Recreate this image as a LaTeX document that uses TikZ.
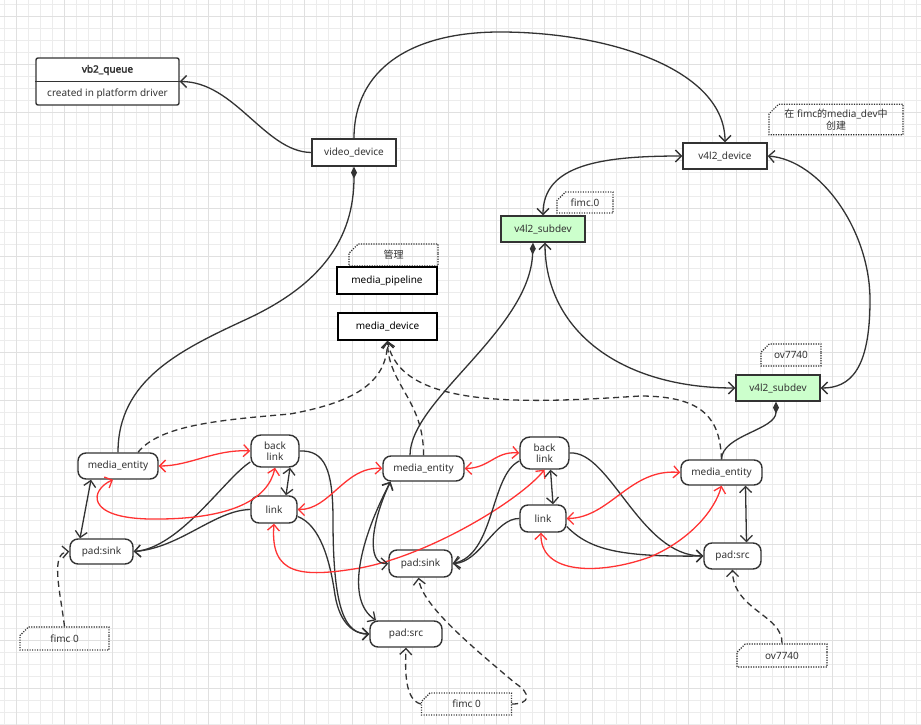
\documentclass[tikz,border=0pt]{standalone}
\usepackage{fontspec}
\setmainfont{Noto Sans}
\newfontfamily\cjk{Noto Sans CJK SC}
\newfontfamily\titlefont{Noto Sans}[FakeBold=2.5]
\usepackage{xcolor}
\usepackage{tikz}
\usetikzlibrary{arrows.meta,positioning,shapes.misc}
\definecolor{linegray}{RGB}{51,51,51}
\definecolor{linkred}{RGB}{255,51,51}
\definecolor{subgreen}{RGB}{204,255,204}
\definecolor{gridminor}{RGB}{236,236,236}
\definecolor{gridmajor}{RGB}{224,224,224}

\begin{document}
\begin{tikzpicture}[x=1pt, y=-1pt, text=linegray,
    box/.style={rectangle, draw=linegray, line width=1.4pt, fill=white, inner sep=2pt},
    boldbox/.style={box, draw=black, line width=1.9pt, text=black},
    subdev/.style={box, fill=subgreen, minimum width=84pt, minimum height=26pt},
    state/.style={box, rounded corners=8pt, align=center},
    note/.style={chamfered rectangle, chamfered rectangle corners=north west,
        chamfered rectangle xsep=6pt, draw=linegray, line width=1.2pt,
        dash pattern=on 1.2pt off 1.3pt, align=center, inner sep=1pt},
    arr/.style={-{Straight Barb[length=6pt,width=12pt]}, line width=1.3pt, draw=linegray},
    darr/.style={{Straight Barb[length=6pt,width=12pt]}-{Straight Barb[length=6pt,width=12pt]},
        line width=1.3pt, draw=linegray},
    rarr/.style={darr, draw=linkred},
    dasharr/.style={arr, dash pattern=on 6pt off 4pt},
    own/.style={-{Diamond[length=12pt,width=6pt]}, line width=1.3pt, draw=linegray}
]
\useasboundingbox (0,0) rectangle (921,725);
\fill[white] (0,0) rectangle (921,725);
\foreach \gx in {0,...,76} \draw[gridminor, line width=0.6pt] (4.7+12*\gx,0) -- (4.7+12*\gx,725);
\foreach \gy in {0,...,60} \draw[gridminor, line width=0.6pt] (0,4+12*\gy) -- (921,4+12*\gy);
\foreach \gx in {0,...,19} \draw[gridmajor, line width=0.7pt] (16.7+48*\gx,0) -- (16.7+48*\gx,725);
\foreach \gy in {0,...,15} \draw[gridmajor, line width=0.7pt] (0,16+48*\gy) -- (921,16+48*\gy);

\node[box, rounded corners=2pt, minimum width=143pt, minimum height=47pt] (vb2) at (107.5,81.5) {};
\draw[linegray, line width=1.2pt] (vb2.west) -- (vb2.east);
\node (vb2title) at (107.5,70) {\titlefont vb2\_queue};
\node (vb2body) at (107.5,93.5) {created in platform driver};

\node[box, minimum width=84pt, minimum height=27pt] (vdev) at (354,152.5) {video\_device};
\node[box, minimum width=84pt, minimum height=26pt] (v4dev) at (725,156) {v4l2\_device};
\node[note, minimum width=134pt, minimum height=29pt] (devnote) at (836,119.5)
    {{\cjk 在} fimc{\cjk 的}media\_dev{\cjk 中}\\{\cjk 创建}};
\node[note, minimum width=56pt, minimum height=21pt] (fimcnote) at (585,202.5) {fimc.0};
\node[subdev] (sdfimc) at (543,229) {v4l2\_subdev};
\node[note, minimum width=89pt, minimum height=22pt] (pipenote) at (393.5,255) {{\cjk 管理}};
\node[boldbox, minimum width=100pt, minimum height=27pt] (mpipe) at (387,280.5) {media\_pipeline};
\node[boldbox, minimum width=99pt, minimum height=27pt] (mdev) at (387.5,326.5) {media\_device};
\node[note, minimum width=60pt, minimum height=22pt] (ovnote) at (791,355) {ov7740};
\node[subdev] (sdov) at (778,388) {v4l2\_subdev};

\node[state, minimum width=80pt, minimum height=26pt] (entL) at (118,466) {media\_entity};
\node[state, minimum width=48pt, minimum height=32pt, rounded corners=10pt] (blinkL) at (275,451) {back\\[-1pt]link};
\node[state, minimum width=46pt, minimum height=27pt] (linkL) at (274,509.5) {link};
\node[state, minimum width=63pt, minimum height=25pt] (sinkL) at (101.5,551.5) {pad:sink};
\node[note, minimum width=89pt, minimum height=23pt] (fimcL) at (64.5,638.5) {fimc 0};

\node[state, minimum width=81pt, minimum height=25pt] (entM) at (423.5,468.5) {media\_entity};
\node[state, minimum width=49pt, minimum height=32pt, rounded corners=10pt] (blinkM) at (544.5,453) {back\\[-1pt]link};
\node[state, minimum width=46pt, minimum height=27pt] (linkM) at (543,518.5) {link};
\node[state, minimum width=63pt, minimum height=27pt] (sinkM) at (420.5,563.5) {pad:sink};
\node[state, minimum width=72pt, minimum height=26pt] (srcM) at (406,634) {pad:src};
\node[note, minimum width=90pt, minimum height=22pt] (fimcM) at (466.5,704) {fimc 0};

\node[state, minimum width=81pt, minimum height=25pt] (entR) at (721.5,472.5) {media\_entity};
\node[state, minimum width=57pt, minimum height=26pt] (srcR) at (732.5,556) {pad:src};
\node[note, minimum width=90pt, minimum height=23pt] (ovR) at (782,655.5) {ov7740};

\draw[arr] (vdev.west) .. controls (265,152) and (235,81.5) .. (vb2.east);
\draw[arr] (vdev.north) .. controls (354,70) and (410,32) .. (500,32)
    .. controls (610,32) and (725,70) .. (v4dev.north);
\draw[own] (entL.north) .. controls (118,380) and (180,350) .. (247,319)
    .. controls (320,285) and (354,240) .. (vdev.south);
\draw[darr] (v4dev.west) .. controls (600,156) and (543,165) .. (sdfimc.north);
\draw[darr] (v4dev.east) .. controls (820,160) and (870,230) .. (870,300)
    .. controls (870,370) and (850,388) .. (sdov.east);
\draw[darr] ([xshift=2pt]sdfimc.south) .. controls (545,330) and (620,388) .. (sdov.west);
\draw[own] ([xshift=-13.5pt]entM.north) .. controls (410,400) and (530,330) .. ([xshift=-10pt]sdfimc.south);
\draw[own] (entR.north) .. controls (722,435) and (776,430) .. ([xshift=-2pt]sdov.south);

\draw[dasharr] ([xshift=20pt]entL.north) .. controls (160,425) and (220,420) .. (290,414)
    .. controls (350,403) and (387,385) .. (mdev.south);
\draw[dasharr] (entM.north) .. controls (424,400) and (388,385) .. (mdev.south);
\draw[dasharr] (entR.north) .. controls (720,420) and (705,396) .. (640,396)
    .. controls (520,404) and (400,408) .. (mdev.south);
\draw[dasharr] (fimcL.north) .. controls (60,590) and (50,553) .. (sinkL.west);
\draw[dasharr] (fimcM.west) .. controls (405,700) and (405,672) .. (srcM.south);
\draw[dasharr] (fimcM.east) .. controls (530,704) and (532,694) .. (515,683)
    .. controls (470,645) and (422,605) .. ([xshift=-2pt]sinkM.south);
\draw[dasharr] (ovR.north) .. controls (783,615) and (733,610) .. (srcR.south);

\draw[darr] ([xshift=-27pt]entL.south) -- ([xshift=-21.5pt]sinkL.north);
\draw[darr] ([xshift=15pt]blinkL.south) -- ([xshift=12pt]linkL.north);
\draw[arr] ([yshift=-11pt]blinkL.west) .. controls (225,478) and (180,548) .. (sinkL.east);
\draw[arr] (linkL.west) .. controls (215,510) and (180,548) .. (sinkL.east);
\draw[arr] (blinkL.east) .. controls (325,450) and (333,470) .. (333,520)
    .. controls (333,610) and (345,634) .. (srcM.west);
\draw[arr] ([yshift=-7pt]linkL.east) .. controls (320,525) and (330,560) .. (335,595)
    .. controls (340,625) and (355,634) .. (srcM.west);
\draw[rarr] (entL.east) .. controls (190,466) and (215,449) .. (blinkL.west);
\draw[rarr] ([xshift=-5pt]entL.south) .. controls (90,490) and (85,518) .. (150,519)
    .. controls (230,520) and (268,500) .. (blinkL.south);
\draw[rarr] (linkL.south) .. controls (270,575) and (300,578) .. (360,568)
    .. controls (430,555) and (520,500) .. (blinkM.south);
\draw[rarr] (linkL.east) .. controls (330,510) and (345,466) .. (entM.west);

\draw[darr] ([xshift=-33pt]entM.south) .. controls (372,520) and (365,565) .. (sinkM.west);
\draw[darr] ([xshift=-33pt]entM.south) .. controls (360,540) and (345,600) .. ([xshift=-30pt]srcM.north);
\draw[arr] ([yshift=-8pt]blinkM.west) .. controls (490,475) and (495,555) .. (sinkM.east);
\draw[arr] (linkM.west) .. controls (495,518) and (480,563) .. (sinkM.east);
\draw[darr] ([xshift=6pt]blinkM.south) -- ([xshift=10pt]linkM.north);
\draw[arr] (blinkM.east) .. controls (610,450) and (640,556) .. (srcR.west);
\draw[arr] ([yshift=-8pt]linkM.east) .. controls (590,550) and (620,557) .. (srcR.west);
\draw[rarr] (entM.east) .. controls (490,468) and (495,451) .. (blinkM.west);
\draw[rarr] (linkM.east) .. controls (610,518) and (630,468) .. (entR.west);
\draw[rarr] ([xshift=-2pt]linkM.south) .. controls (540,575) and (600,575) .. (650,557)
    .. controls (690,540) and (715,510) .. (entR.south);

\draw[darr] ([xshift=24pt]entR.south) -- ([xshift=14pt]srcR.north);
\end{tikzpicture}
\end{document}
